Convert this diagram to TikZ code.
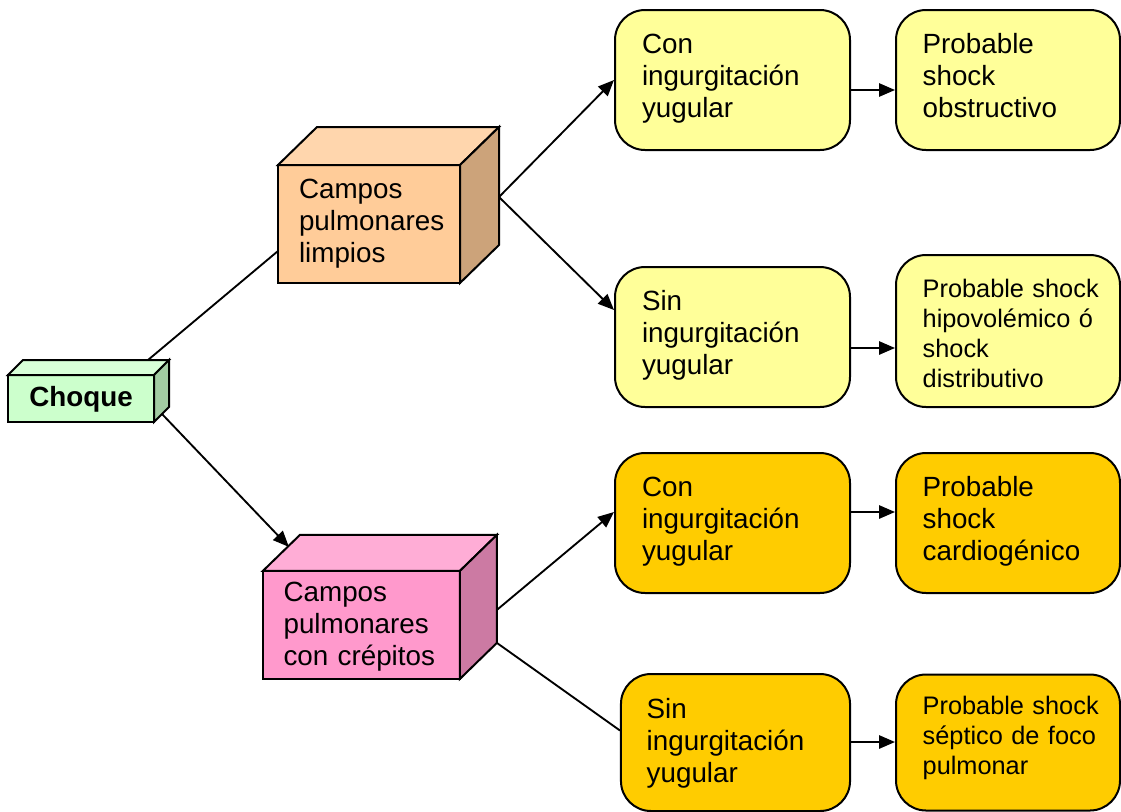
\documentclass[tikz,border=0pt]{standalone}
\usepackage{fontspec}
\setmainfont{Liberation Sans}
\usetikzlibrary{arrows.meta,calc}

\definecolor{pale}{HTML}{FFFF99}
\definecolor{gold}{HTML}{FFCC00}
\definecolor{mint}{HTML}{CCFFCC}
\definecolor{minttop}{HTML}{D9FFD9}
\definecolor{mintside}{HTML}{A3CCA3}
\definecolor{peach}{HTML}{FFCC99}
\definecolor{peachtop}{HTML}{FFD6AD}
\definecolor{peachside}{HTML}{CCA37A}
\definecolor{rose}{HTML}{FF99CC}
\definecolor{rosetop}{HTML}{FFADD6}
\definecolor{roseside}{HTML}{CC7AA3}

\newcommand{\bigtxt}{\fontsize{20.85pt}{24pt}\selectfont}
\newcommand{\smalltxt}{\fontsize{19pt}{22.5pt}\selectfont}

% top and side faces of a box node: node, dx, dy, top colour, side colour
\newcommand{\cubefaces}[5]{%
  \filldraw[line width=1.5pt,fill=#4] (#1.north west) -- ++(#2,-#3) -- ($(#1.north east)+(#2,-#3)$) -- (#1.north east) -- cycle;
  \filldraw[line width=1.5pt,fill=#5] (#1.north east) -- ++(#2,-#3) -- ($(#1.south east)+(#2,-#3)$) -- (#1.south east) -- cycle;
}

\begin{document}
\begin{tikzpicture}[x=0.75pt,y=-0.75pt,
  front/.style={draw,line width=1.5pt,outer sep=0pt,inner ysep=0pt,font=\bigtxt},
  rbox/.style={draw,line width=1.5pt,rounded corners=22.5pt,inner ysep=0pt,align=left,font=\bigtxt,
    text height=32.25pt,text depth=72.75pt},
  line/.style={line width=1.4pt},
  arr/.style={line width=1.4pt,-{Triangle[length=12pt,width=10pt]}}]
\useasboundingbox (0,0) rectangle (1121,811);

% Start node
\node[front,fill=mint,minimum width=109.5pt,text height=23.75pt,text depth=11.5pt,font=\bigtxt\bfseries] (choque) at (81,398.5) {Choque};
\cubefaces{choque}{15}{15}{minttop}{mintside}

% Lung fields
\node[front,fill=peach,align=left,text width=105pt,inner xsep=15.75pt,text height=24.75pt,text depth=63.75pt] (limpios) at (369,224) {Campos\\pulmonares\\limpios};
\cubefaces{limpios}{39}{38}{peachtop}{peachside}
\node[front,fill=rose,align=left,text width=116.75pt,inner xsep=15.5pt,text height=23.25pt,text depth=57.75pt] (crepitos) at (361.4,624.9) {Campos\\pulmonares\\con crépitos};
\cubefaces{crepitos}{37}{36}{rosetop}{roseside}

% Jugular veins
\node[rbox,fill=pale,text width=135.75pt,inner xsep=20.25pt] (conA) at (732.5,80) {Con\\ingurgitación\\yugular};
\node[rbox,fill=pale,text width=135.75pt,inner xsep=20.25pt] (sinA) at (732.5,337) {Sin\\ingurgitación\\yugular};
\node[rbox,fill=gold,text width=135.75pt,inner xsep=20.25pt] (conB) at (732.5,523) {Con\\ingurgitación\\yugular};
\node[rbox,fill=gold,text width=133.2pt,inner xsep=19.3pt,text height=33pt,text depth=69.75pt] (sinB) at (735.5,742.5) {Sin\\ingurgitación\\yugular};

% Probable shock type
\node[rbox,fill=pale,text width=128pt,inner xsep=20pt] (probA) at (1008,80) {Probable\\shock\\obstructivo};
\node[rbox,fill=pale,text width=128pt,inner xsep=20pt,font=\smalltxt,text height=31.5pt,text depth=82.5pt] (probB) at (1008,331) {Probable~shock\\hipovolémico~ó\\shock\\distributivo};
\node[rbox,fill=gold,text width=128pt,inner xsep=20pt] (probC) at (1008,523) {Probable\\shock\\cardiogénico};
\node[rbox,fill=gold,text width=128pt,inner xsep=20pt,font=\smalltxt,text height=30pt,text depth=72pt] (probD) at (1008,742.5) {Probable~shock\\séptico~de~foco\\pulmonar};

% Connections
\draw[line] ($(choque.north east)+(-6,-15)$) -- ($(limpios.west)+(0,27)$);
\draw[arr] ($(choque.south east)+(8,-8)$) -- ($(crepitos.north west)+(26,-24)$);
\draw[arr] ($(limpios.east)+(39,-27)$) -- (conA.west);
\draw[arr] ($(limpios.east)+(39,-27)$) -- ($(sinA.west)+(0,-27)$);
\draw[arr] ($(crepitos.east)+(37,-15)$) -- ($(conB.west)+(0,-11)$);
\draw[line] ($(crepitos.south east)+(37,-36)$) -- ($(sinB.west)+(0,-12)$);
\draw[arr] ($(conA.east)+(0,10)$) -- ($(probA.west)+(0,10)$);
\draw[arr] ($(sinA.east)+(0,11)$) -- ($(probB.west)+(0,17)$);
\draw[arr] ($(conB.east)+(0,-11)$) -- ($(probC.west)+(0,-11)$);
\draw[arr] ($(sinB.east)+(0,-0.5)$) -- ($(probD.west)+(0,-0.5)$);

\end{tikzpicture}
\end{document}
